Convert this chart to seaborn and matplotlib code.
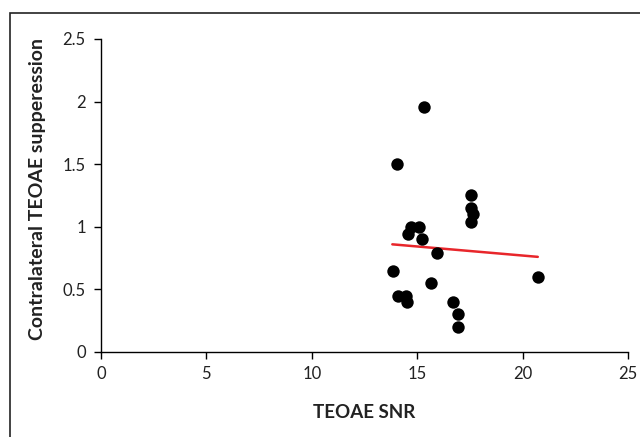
import matplotlib
matplotlib.use("Agg")
import matplotlib.pyplot as plt
import seaborn as sns
import pandas as pd
from matplotlib.patches import Rectangle

# values
snr = [14.03, 15.32, 17.57, 17.54, 17.66, 17.54, 14.72, 15.09, 14.55, 15.21,
       15.92, 13.87, 20.73, 15.65, 14.10, 14.47, 14.53, 16.71, 16.94, 16.94]
suppression = [1.50, 1.96, 1.25, 1.15, 1.10, 1.04, 1.00, 1.00, 0.94, 0.90,
               0.79, 0.65, 0.60, 0.55, 0.45, 0.45, 0.40, 0.40, 0.30, 0.20]
trend_x = [13.82, 20.72]
trend_y = [0.86, 0.76]
x_ticks = [0, 5, 10, 15, 20, 25]
y_ticks = [0, 0.5, 1, 1.5, 2, 2.5]
y_labels = ["0", "0.5", "1", "1.5", "2", "2.5"]

df = pd.DataFrame({"snr": snr, "supp": suppression})

sns.set_style("white")
plt.rcParams["font.family"] = ["Lato", "DejaVu Sans"]

fig = plt.figure(figsize=(6.4, 4.37), dpi=100)
ax = fig.add_axes([101 / 640, 1 - 352 / 437, 527 / 640, 313 / 437])

sns.scatterplot(data=df, x="snr", y="supp", color="black", s=80,
                edgecolor="black", linewidth=0, ax=ax, zorder=3)
sns.lineplot(x=trend_x, y=trend_y, color="#e8262b", linewidth=1.8, ax=ax, zorder=2)

ax.set_xlim(0, 25)
ax.set_ylim(0, 2.5)
ax.set_xticks(x_ticks)
ax.set_yticks(y_ticks)
ax.set_yticklabels(y_labels)
ax.tick_params(axis="both", direction="out", length=5, width=1, color="black",
               labelsize=12, labelcolor="#222222", pad=6, left=True, bottom=True)
ax.tick_params(axis="x", pad=5)

for side in ["top", "right"]:
    ax.spines[side].set_visible(False)
for side in ["left", "bottom"]:
    ax.spines[side].set_color("black")
    ax.spines[side].set_linewidth(1)

ax.set_xlabel("TEOAE SNR", fontsize=13.5, fontweight="bold", color="#222222", labelpad=16)
# spelling kept as in the original figure
ax.set_ylabel("Contralateral TEOAE supperession", fontsize=14, fontweight="bold",
              color="#222222")
ax.yaxis.set_label_coords(-0.104, 0.52)

# outer frame around the chart
fig.patches.append(Rectangle((10 / 640, -0.01), 1.0, 1 - 13 / 437 + 0.01,
                             transform=fig.transFigure, fill=False,
                             edgecolor="#222222", linewidth=1.2))

fig.savefig("out.png", dpi=100)
